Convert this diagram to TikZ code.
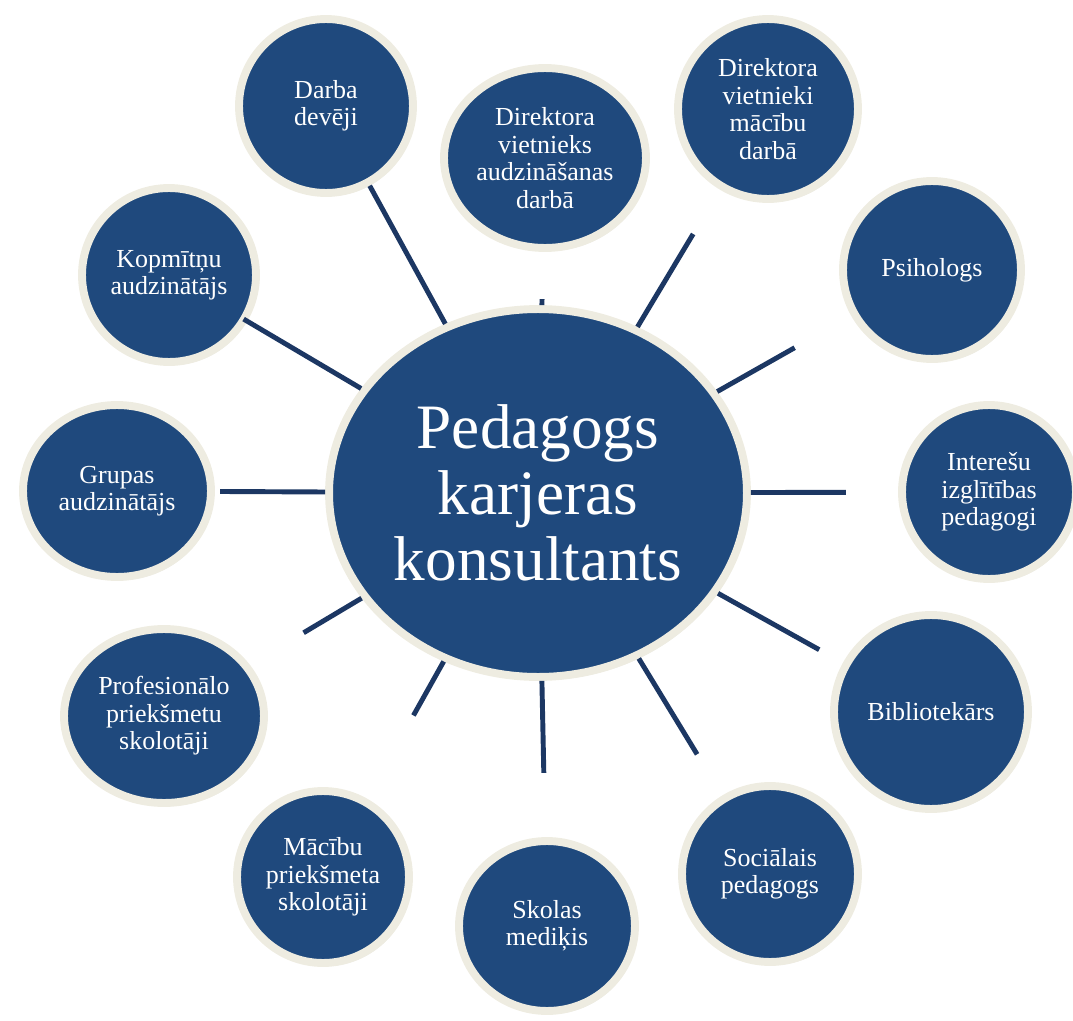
\documentclass[tikz,border=0pt]{standalone}
\usepackage{fontspec}
\setmainfont{Liberation Serif}
\usetikzlibrary{calc,shapes.geometric,shadows}
\definecolor{navy}{HTML}{1F497D}
\definecolor{cream}{HTML}{EEECE1}
\definecolor{spokeblue}{HTML}{1C3763}
\tikzset{
  bubble/.style={ellipse, draw=cream, line width=4.5pt, fill=navy, text=white,
    align=center, inner sep=0pt, font=\fontsize{14.8}{15.6}\selectfont,
    drop shadow={shadow xshift=1.2pt, shadow yshift=-1.8pt, opacity=0.18}},
  spoke/.style={draw=spokeblue, line width=2.8pt},
}

\begin{document}
\begin{tikzpicture}[x=0.02cm, y=-0.02cm]
			%%%%% START %%%%%
			\useasboundingbox (0,0) rectangle (1073,1021);
			
			\node[bubble, minimum width=8.36cm, minimum height=7.36cm,
			  font=\fontsize{36}{37.5}\selectfont] (hub) at (538,493) {Pedagogs\\karjeras\\konsultants};
			
			\node[bubble, minimum width=3.48cm, minimum height=3.48cm] (darba) at (326,106) {Darba\\devēji};
			\node[bubble, minimum width=4.04cm, minimum height=3.60cm] (dva) at (545,158) {Direktora\\vietnieks\\audzināšanas\\darbā};
			\node[bubble, minimum width=3.60cm, minimum height=3.60cm] (dvm) at (768,109) {Direktora\\vietnieki\\mācību\\darbā};
			\node[bubble, minimum width=3.56cm, minimum height=3.56cm] (psih) at (932,270) {Psihologs};
			\node[bubble, minimum width=3.48cm, minimum height=3.48cm] (int) at (989,492) {Interešu\\izglītības\\pedagogi};
			\node[bubble, minimum width=3.88cm, minimum height=3.88cm] (bib) at (931,712) {Bibliotekārs};
			\node[bubble, minimum width=3.52cm, minimum height=3.52cm] (soc) at (770,874) {Sociālais\\pedagogs};
			\node[bubble, minimum width=3.52cm, minimum height=3.40cm] (sko) at (547,926) {Skolas\\mediķis};
			\node[bubble, minimum width=3.44cm, minimum height=3.44cm] (mac) at (323,877) {Mācību\\priekšmeta\\skolotāji};
			\node[bubble, minimum width=4.00cm, minimum height=3.48cm] (prof) at (164,716) {Profesionālo\\priekšmetu\\skolotāji};
			\node[bubble, minimum width=3.76cm, minimum height=3.44cm] (grup) at (117,491) {Grupas\\audzinātājs};
			\node[bubble, minimum width=3.48cm, minimum height=3.48cm] (kop) at (169,275) {Kopmītņu\\audzinātājs};
			
			% spokes
			\draw[spoke] (hub) -- (darba);
			\draw[spoke] (hub) -- ($(hub)!3.88cm!(dva)$);
			\draw[spoke] (hub) -- ($(hub)!6.04cm!(dvm)$);
			\draw[spoke] (hub) -- ($(hub)!5.90cm!(psih)$);
			\draw[spoke] (hub) -- ($(hub)!6.16cm!(int)$);
			\draw[spoke] (hub) -- ($(hub)!6.44cm!(bib)$);
			\draw[spoke] (hub) -- ($(hub)!6.12cm!(soc)$);
			\draw[spoke] (hub) -- ($(hub)!5.60cm!(sko)$);
			\draw[spoke] (hub) -- ($(hub)!5.10cm!(mac)$);
			\draw[spoke] (hub) -- ($(hub)!5.46cm!(prof)$);
			\draw[spoke] (hub) -- ($(hub)!6.36cm!(grup)$);
			\draw[spoke] (hub) -- ($(hub)!6.84cm!(kop)$);
			
			%%%%% END %%%%%
\end{tikzpicture}
\end{document}
